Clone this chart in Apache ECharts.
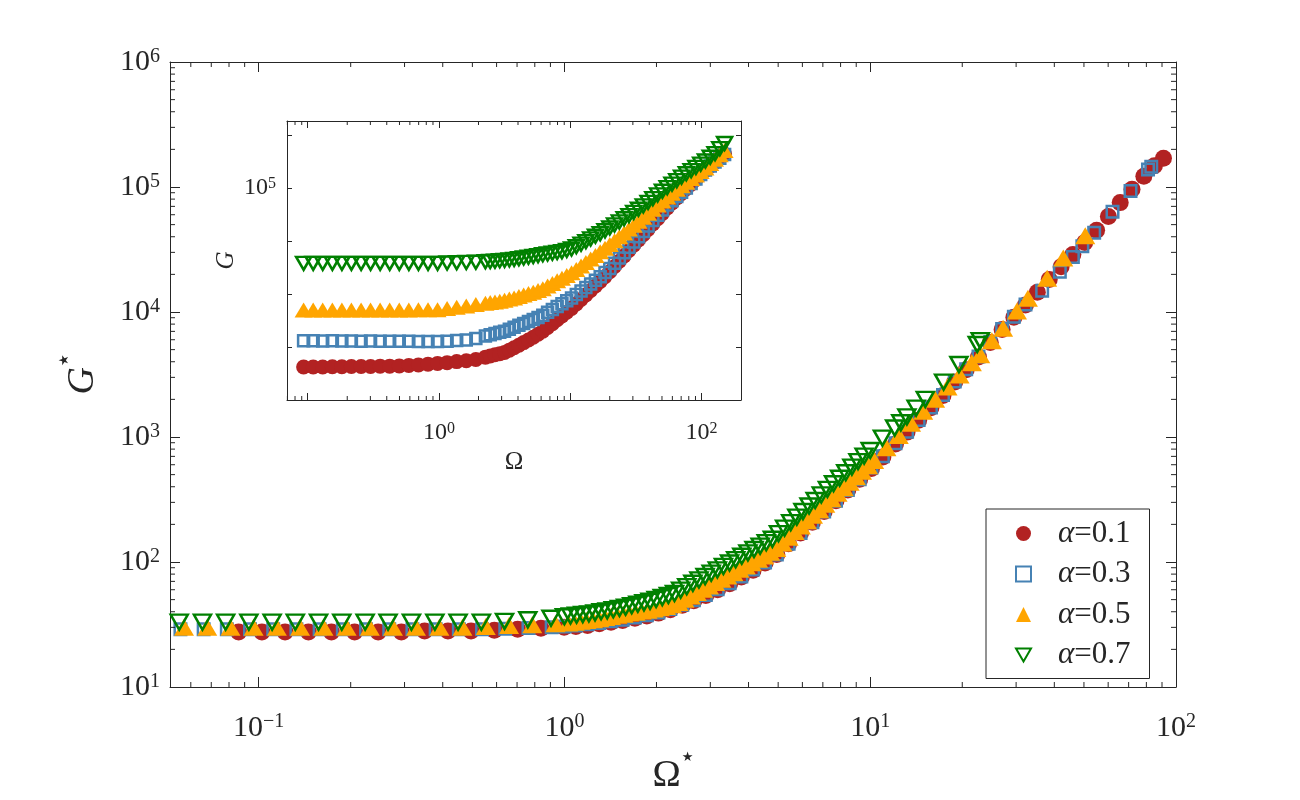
<!DOCTYPE html>
<html>
<head>
<meta charset="utf-8">
<script src="https://cdn.jsdelivr.net/npm/echarts@6/dist/echarts.min.js"></script>
<style>
html, body { margin: 0; padding: 0; background: #fff; }
#chart { width: 1300px; height: 800px; }
</style>
</head>
<body>
<div id="chart"></div>
<script>
var seriesNames = ['α=0.1', 'α=0.3', 'α=0.5', 'α=0.7'];
var seriesColors = ['#B22222', '#4682B4', '#FFA500', '#008000'];

// main plot, scaled data (Omega*, G*)
var omegaStar01 = [0.086, 0.1025, 0.122, 0.1455, 0.173, 0.206, 0.246, 0.293, 0.349, 0.416, 0.495, 0.590, 0.703, 0.838, 0.998,
	1.09, 1.19, 1.30, 1.42, 1.55, 1.70, 1.86, 2.03, 2.22, 2.43, 2.65, 2.90, 3.17, 3.47, 3.79, 4.14, 4.53, 4.95, 5.41, 5.92,
	6.47, 7.07, 7.73, 8.45, 9.24, 10.1, 11.0, 12.1, 13.2, 14.4, 15.8, 17.3, 18.9, 20.6, 22.6, 24.7, 27.0, 29.5, 32.2, 35.2,
	38.5, 42.1, 46.0, 50.3, 55.0, 60.1, 65.7, 71.8, 78.5, 85.0, 91.0];
var gStar01 = [27.5, 27.5, 27.5, 27.5, 27.5, 27.5, 27.5, 27.5, 28, 28, 28, 28.5, 29, 29.5, 30,
	30.5, 31, 32, 33, 34, 35.5, 37, 39, 41.5, 45, 49, 54, 60, 67, 76, 86, 98, 115, 140, 171,
	208, 254, 309, 377, 460, 560, 693, 880, 1094, 1360, 1713, 2150, 2760, 3450, 4370, 5700, 7230, 9070, 11400, 14400,
	18200, 23000, 28800, 36000, 45000, 58000, 75000, 96000, 122000, 148000, 170000];

var omegaStar03 = [0.0555, 0.0661, 0.0787, 0.0937, 0.1116, 0.1329, 0.1583, 0.1885, 0.2245, 0.2674, 0.3184, 0.3792, 0.4516,
	0.5378, 0.6405, 0.7628, 0.9084, 1.0, 1.09, 1.19, 1.30, 1.42, 1.55, 1.70, 1.86, 2.03, 2.22, 2.43, 2.65, 2.90, 3.17,
	3.47, 3.79, 4.14, 4.53, 4.95, 5.41, 5.92, 6.47, 7.07, 7.73, 8.45, 9.24, 10.1, 11.0, 12.1, 13.2, 14.4, 15.8, 17.3,
	18.9, 20.6, 22.6, 24.7, 27.0, 29.5, 32.2, 36.5, 41.7, 46.0, 49.4, 54.0, 62.0, 71.0, 81.0, 83.0];
var gStar03 = [29, 29, 29, 29, 29, 29, 29, 29, 29, 29, 29, 29, 29,
	29, 29.3, 29.6, 30, 30.5, 31, 31.7, 32.5, 33.5, 34.5, 36, 37.5, 39.5, 42, 45.5, 49.5, 54.5, 60.5,
	67.5, 76.5, 87, 99, 115, 140, 171, 208, 254, 309, 377, 460, 570, 700, 890, 1100, 1370, 1720, 2170,
	2780, 3480, 4400, 5750, 7300, 9150, 11500, 14800, 21000, 27500, 33500, 43000, 63500, 93000, 138000, 145000];

var omegaStar05 = [0.0570, 0.0679, 0.0809, 0.0963, 0.1147, 0.1366, 0.163, 0.194, 0.231, 0.275, 0.327, 0.390, 0.464,
	0.553, 0.659, 0.785, 0.935,
	1.03, 1.08, 1.13, 1.18, 1.24, 1.30, 1.36, 1.42, 1.49, 1.56, 1.63, 1.71, 1.79, 1.87, 1.96, 2.05, 2.15, 2.25,
	2.36, 2.47, 2.59, 2.71, 2.84, 2.97, 3.11, 3.26, 3.41, 3.57, 3.74, 3.92, 4.10, 4.30, 4.50, 4.71, 4.93, 5.16,
	5.41, 5.66, 5.93, 6.21, 6.50, 6.81, 7.13, 7.47, 7.82, 8.19, 8.57, 8.98, 9.40, 9.84, 10.3,
	11.3, 12.4, 13.6, 14.9, 16.3, 17.9, 19.6, 21.5, 22.9, 25.0, 27.2, 30.2, 32.8, 37.9, 42.8, 50.5];
var gStar05 = [30, 30, 30, 30, 30, 30, 30, 30, 30, 30, 30, 30, 30,
	30.5, 31, 31.5, 32,
	32.5, 33, 33.5, 34, 34.5, 35.2, 36, 36.7, 37.5, 38.2, 39, 39.7, 40.5, 41.2, 42, 43, 44, 45.5,
	47.4, 50.3, 53.5, 57, 60.6, 64.4, 68.4, 72.8, 77.3, 82.2, 87.5, 93, 98.8, 105, 111.8, 119.5, 128, 142,
	158, 175, 194, 214, 237, 262, 290, 321, 355, 393, 434, 481, 532, 588, 649,
	821, 1028, 1288, 1607, 2000, 2513, 3130, 3920, 4560, 5900, 7400, 10200, 12900, 18600, 27000, 40700];

var omegaStar07 = [0.0550, 0.0655, 0.0780, 0.0929, 0.1107, 0.1318, 0.157, 0.187, 0.223, 0.265, 0.316, 0.377, 0.449,
	0.535, 0.637, 0.759, 0.904,
	1.0, 1.047, 1.096, 1.148, 1.202, 1.259, 1.318, 1.380, 1.445, 1.514, 1.585, 1.660, 1.738, 1.820, 1.905, 1.995, 2.089,
	2.188, 2.291, 2.399, 2.512, 2.630, 2.754, 2.884, 3.020, 3.162, 3.311, 3.467, 3.631, 3.802, 3.981, 4.169, 4.365,
	4.571, 4.786, 5.012, 5.248, 5.495, 5.754, 6.026, 6.310, 6.607, 6.918, 7.244, 7.586, 7.943, 8.318, 8.710, 9.120,
	9.550, 10.0,
	10.96, 12.02, 12.59, 13.18, 14.13, 15.14, 17.38, 19.50, 22.39, 22.9];
var gStar07 = [33, 33, 33, 33, 33, 33, 33, 33, 33, 33, 33, 33, 33,
	33, 33.5, 34.5, 35.5,
	36.5, 37, 37.5, 38, 38.5, 39.2, 40, 40.7, 41.5, 42.5, 43.5, 44.7, 46, 47.2, 48.5, 50.2, 52,
	54, 56, 59.6, 63.5, 67.6, 71.9, 76.5, 81.4, 86.6, 92.2, 98.2, 104.5, 111.2, 118.4, 126, 134,
	142.7, 152, 168.5, 186.5, 206.5, 228.6, 253.3, 280.6, 310.7, 344, 381, 422.7, 468, 518, 574, 636,
	704, 780,
	980, 1180, 1300, 1450, 1700, 2000, 2750, 3800, 5500, 5900];

// inset, raw data (Omega, G)
var omegaInset = [0.093, 0.110, 0.130, 0.154, 0.182, 0.215, 0.255, 0.301, 0.356, 0.421, 0.498, 0.589, 0.697, 0.825, 0.975,
	1.153, 1.364, 1.614, 1.909,
	2.258, 2.456, 2.670, 2.904, 3.158, 3.435, 3.735, 4.062, 4.418, 4.805, 5.226, 5.684, 6.180, 6.722, 7.310, 7.950,
	8.646, 9.404, 10.23, 11.12, 12.09, 13.15, 14.31, 15.56, 16.92, 18.40, 20.01, 21.76, 23.67, 25.74, 28.00, 30.45,
	33.11, 36.01, 39.17, 42.60, 46.33, 50.39, 54.80, 59.60, 64.82, 70.49, 76.66, 83.37, 90.67, 98.61, 107.2, 116.6,
	126.8, 137.9, 150.0];
var gInset01 = [42, 42, 42, 42.5, 42.5, 43, 43, 43, 43.5, 43.5, 44, 45, 46, 47.5, 49,
	50.7, 53, 55.2, 58.2,
	64.3, 67.7, 71.3, 75, 78.9, 87.3, 96.6, 108, 121, 136, 153, 174, 198, 233, 276, 326,
	385, 454, 536, 649, 786, 958, 1167, 1421, 1730, 2131, 2625, 3308, 4170, 5250, 6610, 8330,
	10500, 13200, 16600, 20900, 26400, 33300, 42000, 52200, 65000, 79400, 97000, 118600, 145000, 177000, 216000, 258000,
	308000, 367000, 437000];
var gInset03 = [131, 131, 130, 131, 130, 130, 129, 130, 129, 129, 128, 128, 127, 127, 127,
	128, 132, 136, 144.5,
	161, 170, 179, 189, 199, 217, 237, 257, 279, 303, 330, 362, 398, 451, 512, 580,
	658, 745, 844, 981, 1140, 1330, 1552, 1814, 2120, 2535, 3030, 3814, 4800, 6036, 7590, 9540,
	12000, 15180, 19200, 24300, 30800, 38400, 47900, 57500, 69000, 83000, 100000, 121700, 148000, 180000, 219000, 260000,
	309000, 363000, 427000];
var gInset05 = [500, 500, 500, 500, 500, 500, 500, 500, 500, 500, 500, 500, 502, 503, 507,
	531, 562, 597, 631,
	670, 690, 710, 734, 759, 801, 845, 899, 957, 1019, 1084, 1170, 1262, 1414, 1585, 1776,
	1990, 2233, 2506, 2904, 3365, 3926, 4580, 5350, 6250, 7330, 8600, 10160, 12000, 14200, 16800, 19900,
	23600, 28100, 33500, 39900, 47600, 56700, 67600, 79900, 94500, 110400, 129000, 150700, 176000, 205500, 240000, 289000,
	349000, 423000, 513000];
var gInset07 = [3800, 3800, 3800, 3800, 3800, 3800, 3800, 3800, 3800, 3800, 3800, 3800, 3800, 3800, 3800,
	3850, 3890, 3940, 3980,
	4060, 4110, 4170, 4240, 4320, 4420, 4520, 4650, 4790, 4960, 5130, 5320, 5520, 5700, 5890, 6100,
	6310, 6680, 7080, 7850, 8710, 9770, 10960, 12300, 13800, 15600, 17600, 20100, 22900, 26300, 30200, 34700,
	39800, 46200, 53700, 63100, 74100, 86900, 102000, 118800, 138000, 160300, 186000, 213500, 245000, 281700, 324000, 380500,
	447000, 556000, 692000];

// axis ranges and labelled ticks
var mainXRange = [0.0513, 100];
var mainYRange = [10, 1e6];
var insetXRange = [0.0695, 200];
var insetYRange = [10, 1.84e6];
var mainXLabels = [0.1, 1, 10, 100];
var mainYLabels = [10, 100, 1000, 1e4, 1e5, 1e6];
var insetXLabels = [1, 100];
var insetYLabels = [1e5];
var minorMantissa = [2, 3, 4, 5, 6, 7, 8, 9];

var ink = '#262626';
var serif = 'Liberation Serif';

function pairs(xs, ys) {
	var out = [];
	for (var i = 0; i < xs.length; i++) {
		out.push([xs[i], ys[i]]);
	}
	return out;
}

function powLabel(list) {
	return function(v) {
		var e = Math.round(Math.log10(v));
		var hit = false;
		for (var i = 0; i < list.length; i++) {
			if (Math.abs(Math.log10(list[i]) - Math.log10(v)) < 1e-6) hit = true;
		}
		if (!hit) return '';
		var es = e < 0 ? '\u2212' + (-e) : '' + e;
		return '{b|10}{s|' + es + '}';
	};
}

function labelRich(big, small, lh) {
	return {
		b: { fontFamily: serif, fontSize: big, lineHeight: lh, verticalAlign: 'bottom', color: ink },
		s: { fontFamily: serif, fontSize: small, lineHeight: small, verticalAlign: 'top', color: ink }
	};
}

function minorValues(range) {
	var out = [];
	for (var k = -3; k <= 7; k++) {
		for (var m = 0; m < minorMantissa.length; m++) {
			var v = minorMantissa[m] * Math.pow(10, k);
			if (v > range[0] && v < range[1]) out.push(v);
		}
	}
	return out;
}

// small ticks on both sides of a grid, placed through the axis scale
function minorTicks(xi, yi, dir, vals, ref, len) {
	return {
		type: 'custom',
		xAxisIndex: xi,
		yAxisIndex: yi,
		silent: true,
		z: 4,
		data: vals.map(function(v) { return dir === 'x' ? [v, ref] : [ref, v]; }),
		renderItem: function(params, api) {
			var cs = params.coordSys;
			var p = api.coord([api.value(0), api.value(1)]);
			var st = { stroke: ink, lineWidth: 1 };
			if (dir === 'x') {
				return { type: 'group', children: [
					{ type: 'line', shape: { x1: p[0], y1: cs.y + cs.height, x2: p[0], y2: cs.y + cs.height - len }, style: st },
					{ type: 'line', shape: { x1: p[0], y1: cs.y, x2: p[0], y2: cs.y + len }, style: st }
				] };
			}
			return { type: 'group', children: [
				{ type: 'line', shape: { x1: cs.x, y1: p[1], x2: cs.x + len, y2: p[1] }, style: st },
				{ type: 'line', shape: { x1: cs.x + cs.width, y1: p[1], x2: cs.x + cs.width - len, y2: p[1] }, style: st }
			] };
		}
	};
}

function logAxis(grid, pos, range, show, tickLen, labels, rich, margin) {
	return {
		type: 'log',
		logBase: 10,
		gridIndex: grid,
		position: pos,
		min: range[0],
		max: range[1],
		splitLine: { show: false },
		axisLine: { show: true, lineStyle: { color: ink, width: 1 } },
		axisTick: { show: true, inside: true, length: tickLen, lineStyle: { color: ink, width: 1 } },
		axisLabel: show ? { show: true, margin: margin, formatter: powLabel(labels), rich: rich } : { show: false }
	};
}

var mainRich = labelRich(30, 20, 31);
var insetRich = labelRich(24, 16, 24);

var starRich = function(letter, italic) {
	var r = {
		s: { fontFamily: 'DejaVu Sans', fontSize: 13, lineHeight: 14, padding: [0, 0, 0, 1], verticalAlign: 'top', color: ink }
	};
	r[letter] = { fontFamily: serif, fontSize: 38, lineHeight: 44, verticalAlign: 'bottom', color: ink };
	if (italic) r[letter].fontStyle = 'italic';
	return r;
};

var xMainBottom = logAxis(0, 'bottom', mainXRange, true, 10, mainXLabels, mainRich, 25);
xMainBottom.name = '{o|\u03A9}{s|\u2605}';
xMainBottom.nameLocation = 'middle';
xMainBottom.nameGap = 64;
xMainBottom.nameMoveOverlap = false;
xMainBottom.nameTextStyle = { rich: starRich('o', false) };

var yMainLeft = logAxis(0, 'left', mainYRange, true, 10, mainYLabels, mainRich, 10);
yMainLeft.name = '{g|G}{s|\u2605}';
yMainLeft.nameLocation = 'middle';
yMainLeft.nameGap = 68;
yMainLeft.nameMoveOverlap = false;
yMainLeft.nameTextStyle = { rich: starRich('g', true) };

var xInsetBottom = logAxis(1, 'bottom', insetXRange, true, 7, insetXLabels, insetRich, 21);
xInsetBottom.name = '\u03A9';
xInsetBottom.nameLocation = 'middle';
xInsetBottom.nameGap = 50;
xInsetBottom.nameMoveOverlap = false;
xInsetBottom.nameTextStyle = { fontFamily: serif, fontSize: 25, color: ink };

var yInsetLeft = logAxis(1, 'left', insetYRange, true, 5, insetYLabels, insetRich, 11);
yInsetLeft.name = 'G';
yInsetLeft.nameLocation = 'middle';
yInsetLeft.nameGap = 48;
yInsetLeft.nameMoveOverlap = false;
yInsetLeft.nameTextStyle = { fontFamily: serif, fontStyle: 'italic', fontSize: 25, color: ink };

function scatter(name, xi, yi, xs, ys, symbol, size, color, hollow, rotate) {
	return {
		name: name,
		type: 'scatter',
		xAxisIndex: xi,
		yAxisIndex: yi,
		symbol: symbol,
		symbolSize: size,
		symbolRotate: rotate || 0,
		z: 3,
		data: pairs(xs, ys),
		itemStyle: hollow ? { color: 'rgba(255,255,255,0)', borderColor: color, borderWidth: 2.5, opacity: 1 }
			: { color: color, opacity: 1 },
		emphasis: { disabled: true }
	};
}

var option = {
	animation: false,
	backgroundColor: '#fff',
	grid: [
		{ left: 170, right: 124, top: 62, bottom: 108, containLabel: false },
		{ left: 287, right: 559, top: 121, bottom: 400, containLabel: false, show: true,
			backgroundColor: '#fff', borderWidth: 0 }
	],
	xAxis: [
		xMainBottom,
		logAxis(0, 'top', mainXRange, false, 10),
		xInsetBottom,
		logAxis(1, 'top', insetXRange, false, 7)
	],
	yAxis: [
		yMainLeft,
		logAxis(0, 'right', mainYRange, false, 10),
		yInsetLeft,
		logAxis(1, 'right', insetYRange, false, 5)
	],
	legend: {
		data: [
			{ name: seriesNames[0] },
			{ name: seriesNames[1] },
			{ name: seriesNames[2] },
			{ name: seriesNames[3], icon: 'path://M0,0 L20,0 L10,17.3 Z' }
		],
		orient: 'vertical',
		left: 986,
		top: 509,
		padding: [9, 19, 8, 29],
		itemGap: 9.5,
		itemWidth: 15,
		itemHeight: 15,
		backgroundColor: '#fff',
		borderColor: ink,
		borderWidth: 1,
		borderRadius: 0,
		selectedMode: false,
		formatter: function(name) {
			return '{a|\u03B1}{b|' + name.slice(1) + '}';
		},
		textStyle: {
			color: ink,
			rich: {
				a: { fontFamily: serif, fontStyle: 'italic', fontSize: 31, lineHeight: 28, padding: [0, 0, 0, 22], color: ink },
				b: { fontFamily: serif, fontSize: 31, lineHeight: 28, color: ink }
			}
		}
	},
	series: [
		scatter(seriesNames[0], 0, 0, omegaStar01, gStar01, 'circle', 17, seriesColors[0], false),
		scatter(seriesNames[1], 0, 0, omegaStar03, gStar03, 'rect', 11.5, seriesColors[1], true),
		scatter(seriesNames[2], 0, 0, omegaStar05, gStar05, 'triangle', [20, 17], seriesColors[2], false),
		scatter(seriesNames[3], 0, 0, omegaStar07, gStar07, 'triangle', [17, 15], seriesColors[3], true, 180),
		scatter(seriesNames[0], 2, 2, omegaInset, gInset01, 'circle', 15, seriesColors[0], false),
		scatter(seriesNames[1], 2, 2, omegaInset, gInset03, 'rect', 11, seriesColors[1], true),
		scatter(seriesNames[2], 2, 2, omegaInset, gInset05, 'triangle', [18, 15], seriesColors[2], false),
		scatter(seriesNames[3], 2, 2, omegaInset, gInset07, 'triangle', [15, 13], seriesColors[3], true, 180),
		minorTicks(0, 0, 'x', minorValues(mainXRange), 100, 5),
		minorTicks(0, 0, 'y', minorValues(mainYRange), 1, 5),
		minorTicks(2, 2, 'x', minorValues(insetXRange), 1000, 4)
	]
};

var chart = echarts.init(document.getElementById('chart'));
chart.setOption(option);
</script>
</body>
</html>
